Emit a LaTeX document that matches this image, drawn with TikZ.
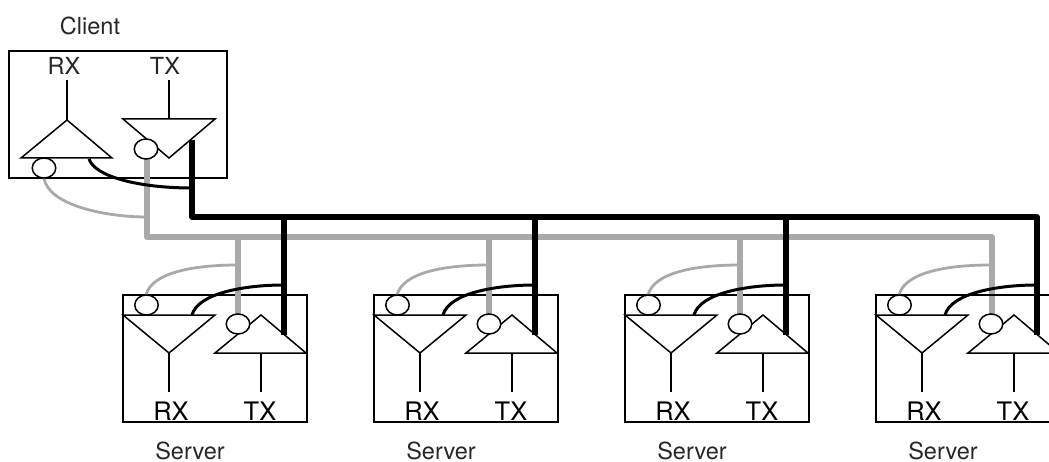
\documentclass[tikz,border=0pt]{standalone}
\usepackage{fontspec}
\setmainfont{TeX Gyre Heros}
\usetikzlibrary{shapes.geometric}
\definecolor{busgray}{HTML}{A9A9A9}
\tikzset{
  x=1pt,y=-1pt,
  unit/.style={draw=black,line width=1.5pt,line join=miter},
  thin wire/.style={draw=black,line width=1.4pt},
  port/.style={ellipse,draw=black,fill=white,line width=1.5pt,minimum width=23.5pt,minimum height=20pt,inner sep=0pt,outer sep=0pt},
  lbl/.style={font=\fontsize{23.5pt}{24pt}\selectfont,anchor=base,inner sep=0pt,text=black!85},
  srvlbl/.style={font=\fontsize{25.5pt}{26pt}\selectfont,anchor=base,inner sep=0pt,text=black},
  graybus/.style={draw=busgray,line width=5.2pt,line join=round},
  graystub/.style={draw=busgray,line width=2.8pt},
  blackbus/.style={draw=black,line width=5.6pt,line join=round},
  blackstub/.style={draw=black,line width=3pt}
}
\begin{document}
\begin{tikzpicture}
\useasboundingbox (0,0) rectangle (1049,462);
\clip (0,0) rectangle (1049,462);
% Client
\node[lbl] (clientlabel) at (90,35) {Client};
\draw[unit] (9,51) rectangle (227,178);
\node[lbl] (crx) at (64,75) {RX};
\node[lbl] (ctx) at (165,75) {TX};
\coordinate (crxa) at (67,80);
\coordinate (crxb) at (67,120);
\coordinate (ctxa) at (169,80);
\coordinate (ctxb) at (169,119);
\draw[thin wire] (crxa) -- (crxb);
\draw[thin wire] (ctxa) -- (ctxb);
\draw[unit] (crxb) -- (112,158) -- (21,158) -- cycle;
\draw[unit] (123,119) -- (215,119) -- (169,158) -- cycle;
% Buses
\coordinate (bk0) at (192,140);
\coordinate (bk1) at (192,217);
\coordinate (bkend) at (1037,217);
\coordinate (gy0) at (147,159);
\coordinate (gy1) at (147,237);
\coordinate (gyend) at (992,237);
\coordinate (cblk) at (89,159);
\coordinate (cblkend) at (192,188);
\coordinate (cgry) at (44,178);
\coordinate (cgryend) at (147,217);
\draw[graystub] (cgry) .. controls (48,205) and (105,217) .. (cgryend);
\draw[graybus] (gy0) -- (gy1) -- (gyend) -- (992,315);
\draw[blackstub] (cblk) .. controls (95,177) and (140,188) .. (cblkend);
\draw[blackbus] (bk0) -- (bk1) -- (bkend) -- (1037,335);
\node[port] (crxp) at (44,168) {};
\node[port] (ctxp) at (146,149) {};
% Servers
\foreach \i/\d in {1/0,2/251,3/502,4/753}{
  \begin{scope}[xshift=\d pt]
    \draw[unit] (123,295) rectangle (307,422);
    \draw[unit] (123,315) -- (215,315) -- (169,353) -- cycle;
    \draw[unit] (215,353) -- (261,315) -- (306,353) -- cycle;
    \coordinate (rxa\i) at (169,353);
    \coordinate (rxb\i) at (169,392);
    \coordinate (txa\i) at (261,353);
    \coordinate (txb\i) at (261,392);
    \draw[thin wire] (rxa\i) -- (rxb\i);
    \draw[thin wire] (txa\i) -- (txb\i);
    \coordinate (gt\i) at (238,237);
    \coordinate (gb\i) at (238,314);
    \coordinate (bt\i) at (284,217);
    \coordinate (bb\i) at (284,335);
    \coordinate (gs\i) at (146,295);
    \coordinate (gse\i) at (238,265);
    \coordinate (bs\i) at (192,315);
    \coordinate (bse\i) at (284,285);
    \ifnum\i<4 \draw[graybus] (gt\i) -- (gb\i); \draw[blackbus] (bt\i) -- (bb\i); \fi
    \draw[graystub] (gs\i) .. controls (152,272) and (195,265) .. (gse\i);
    \draw[blackstub] (bs\i) .. controls (198,293) and (245,285) .. (bse\i);
    \node[port] (rxp\i) at (146.5,305) {};
    \node[port] (txp\i) at (238,324) {};
    \node[srvlbl] (rxl\i) at (171,420) {RX};
    \node[srvlbl] (txl\i) at (260,420) {TX};
    \node[lbl] (srv\i) at (190,459) {Server};
  \end{scope}
}
\end{tikzpicture}
\end{document}
